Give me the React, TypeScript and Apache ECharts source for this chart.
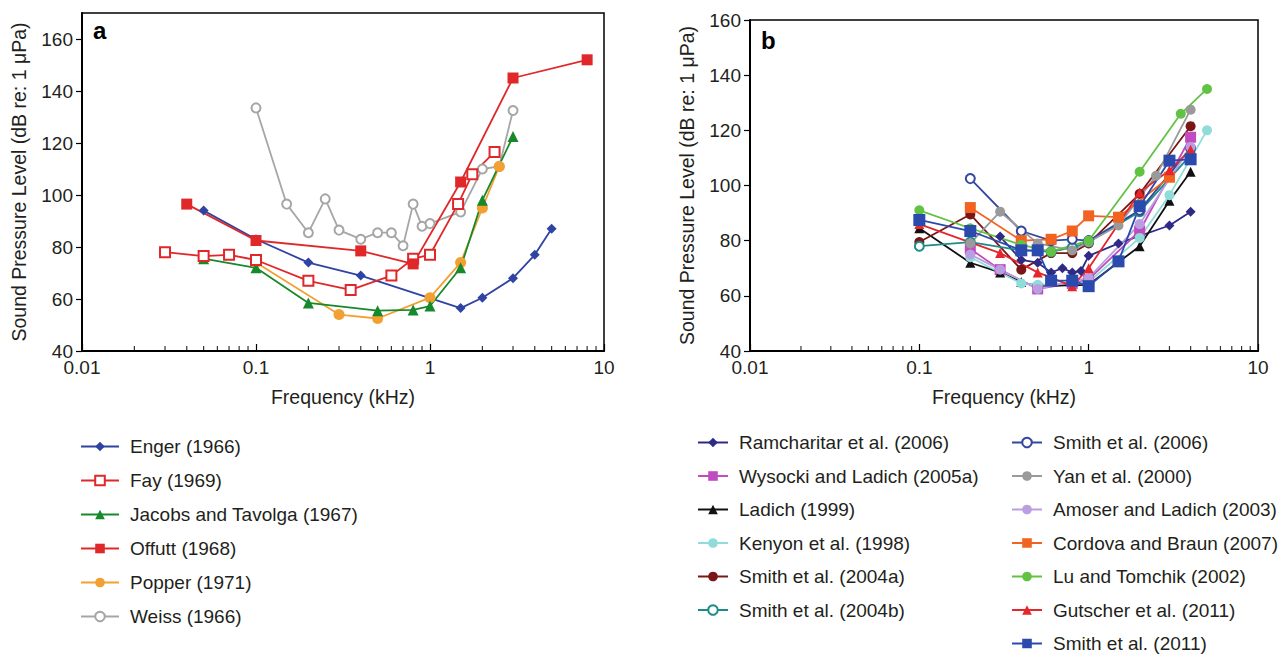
import React, { useEffect, useRef } from "react";
import * as echarts from "echarts";

// ---------- Panel a data (frequency kHz, dB) ----------
const engerData = [[0.05, 94], [0.1, 83], [0.2, 74], [0.4, 69], [1.5, 56.5], [2, 60.5], [3, 68], [4, 77], [5, 87]];
const fayData = [[0.03, 78], [0.05, 76.5], [0.07, 77], [0.1, 75], [0.2, 67], [0.35, 63.5], [0.6, 69], [0.8, 75.5], [1, 77], [1.45, 96.5], [1.75, 108], [2.35, 116.5]];
const jacobsData = [[0.05, 75.5], [0.1, 72], [0.2, 58.5], [0.5, 55.5], [0.8, 55.8], [1, 57.3], [1.5, 72], [2, 98], [3, 122.5]];
const offuttData = [[0.04, 96.5], [0.1, 82.5], [0.4, 78.5], [0.8, 73.5], [1.5, 105], [3, 145], [8, 152]];
const popperData = [[0.1, 74], [0.3, 54], [0.5, 52.5], [1, 60.5], [1.5, 74], [2, 95], [2.5, 111]];
const weissData = [[0.1, 133.5], [0.15, 96.5], [0.2, 85.5], [0.25, 98.5], [0.3, 86.5], [0.4, 83], [0.5, 85.5], [0.6, 85.5], [0.7, 80.5], [0.8, 96.5], [0.9, 88], [1, 89], [1.5, 93.5], [2, 110], [2.5, 111], [3, 132.5]];

// ---------- Panel b data ----------
const ramcharitarData = [[0.3, 81.5], [0.4, 73], [0.5, 72], [0.6, 68.5], [0.7, 70], [0.8, 68.5], [0.9, 69], [1, 74.5], [1.5, 79], [3, 85.5], [4, 90.5]];
const wysockiData = [[0.2, 77], [0.3, 69.5], [0.5, 62.5], [0.8, 64.5], [1, 66], [2, 83.5], [4, 117.5]];
const ladichData = [[0.1, 84.5], [0.2, 72], [0.3, 68.5], [0.4, 65], [0.5, 63.5], [1, 64], [2, 78], [3, 94.5], [4, 105]];
const kenyonData = [[0.2, 74], [0.4, 64.5], [0.5, 64], [1, 65], [2, 81], [3, 96.5], [5, 120]];
const smith2004aData = [[0.1, 79.5], [0.2, 89.5], [0.4, 69.5], [0.6, 75.5], [0.8, 75.5], [1, 79], [2, 97], [4, 121.5]];
const smith2004bData = [[0.1, 78], [0.2, 79.5], [0.4, 76.5], [0.6, 76], [0.8, 77.5], [1, 79.5], [2, 90.5], [4, 111]];
const smith2006Data = [[0.2, 102.5], [0.4, 83.5], [0.6, 80], [0.8, 80.5], [1, 80], [2, 91], [4, 113.5]];
const yanData = [[0.2, 79], [0.3, 90.5], [0.5, 79], [0.8, 76.5], [1, 79.5], [1.5, 85.5], [2.5, 103.5], [4, 127.5]];
const amoserData = [[0.2, 75], [0.3, 69.5], [0.5, 62.5], [1, 66.5], [2, 86], [4, 114]];
const cordovaData = [[0.2, 92], [0.4, 80], [0.6, 80.5], [0.8, 83.5], [1, 89], [1.5, 88.5], [3, 103]];
const luData = [[0.1, 91], [0.2, 84.5], [0.4, 78.5], [0.6, 76], [1, 80], [2, 105], [3.5, 126], [5, 135]];
const gutscherData = [[0.1, 86], [0.3, 75.5], [0.5, 68.5], [0.8, 63.5], [1, 70], [2, 97.5], [3, 105.5], [4, 113]];
const smith2011Data = [[0.1, 87.5], [0.2, 83.5], [0.4, 76.5], [0.5, 76.5], [0.6, 65.5], [0.8, 65.5], [1, 63.5], [1.5, 72.5], [2, 92.5], [3, 109], [4, 109.5]];

// minor tick frequencies for the log axes
const minorTickFreqs = [0.02, 0.03, 0.04, 0.05, 0.06, 0.07, 0.08, 0.09, 0.2, 0.3, 0.4, 0.5, 0.6, 0.7, 0.8, 0.9, 2, 3, 4, 5, 6, 7, 8, 9];

const legendA = ["Enger (1966)", "Fay (1969)", "Jacobs and Tavolga (1967)", "Offutt (1968)", "Popper (1971)", "Weiss (1966)"];
const legendB1 = ["Ramcharitar et al. (2006)", "Wysocki and Ladich (2005a)", "Ladich (1999)", "Kenyon et al. (1998)", "Smith et al. (2004a)", "Smith et al. (2004b)"];
const legendB2 = ["Smith et al. (2006)", "Yan et al. (2000)", "Amoser and Ladich (2003)", "Cordova and Braun (2007)", "Lu and Tomchik (2002)", "Gutscher et al. (2011)", "Smith et al. (2011)"];

const FONT = "'Liberation Sans', Arial, Helvetica, sans-serif";
const TXT = "#231f20";

function mk(name: string, data: number[][], idx: number, color: string, symbol: string, size: number, z = 2) {
  const empty = symbol.startsWith("empty");
  return {
    name,
    type: "line",
    xAxisIndex: idx,
    yAxisIndex: idx,
    data,
    symbol,
    symbolSize: size,
    showAllSymbol: true,
    z,
    lineStyle: { color, width: 1.8 },
    itemStyle: { color, borderColor: color, borderWidth: empty ? 2 : 0 },
    emphasis: { disabled: true },
  };
}

function minorTicks(idx: number) {
  return {
    type: "scatter",
    xAxisIndex: idx,
    yAxisIndex: idx,
    data: minorTickFreqs.map((f) => [f, 40]),
    symbol: "rect",
    symbolSize: [1.2, 5],
    symbolOffset: [0, -2.5],
    itemStyle: { color: "#000" },
    silent: true,
    clip: false,
    z: 5,
  };
}

function xAxis(idx: number) {
  return {
    type: "log",
    gridIndex: idx,
    min: 0.01,
    max: 10,
    logBase: 10,
    name: "Frequency (kHz)",
    nameLocation: "middle",
    nameGap: 36,
    nameTextStyle: { fontSize: 19.5, color: TXT, fontFamily: FONT },
    axisLine: { lineStyle: { color: "#000", width: 2 } },
    axisTick: { inside: true, length: 7, lineStyle: { color: "#000", width: 1.2 } },
    axisLabel: { fontSize: 19, color: TXT, fontFamily: FONT, margin: 7 },
    splitLine: { show: false },
  };
}

function yAxis(idx: number, max: number) {
  return {
    type: "value",
    gridIndex: idx,
    min: 40,
    max,
    interval: 20,
    name: "Sound Pressure Level (dB re: 1 μPa)",
    nameLocation: "middle",
    nameGap: 53,
    nameTextStyle: { fontSize: 19.5, color: TXT, fontFamily: FONT },
    axisLine: { show: true, lineStyle: { color: "#000", width: 2 } },
    axisTick: { show: true, inside: false, length: 6, lineStyle: { color: "#000", width: 1.2 } },
    axisLabel: { fontSize: 19, color: TXT, fontFamily: FONT, margin: 9, showMaxLabel: max === 160 },
    splitLine: { show: false },
  };
}

function legend(left: number, top: number, data: string[], itemWidth: number, gap: number) {
  return {
    orient: "vertical",
    left,
    top,
    height: 260,
    padding: 0,
    data,
    itemWidth,
    itemHeight: 12,
    itemGap: gap,
    selectedMode: false,
    textStyle: { fontSize: 19, color: TXT, fontFamily: FONT, padding: [0, 0, 0, 6] },
  };
}

export default function App() {
  const ref = useRef<HTMLDivElement>(null);
  useEffect(() => {
    if (!ref.current) return;
    const chart = echarts.init(ref.current, null, { renderer: "svg" });
    chart.setOption({
      animation: false,
      backgroundColor: "#fff",
      textStyle: { fontFamily: FONT },
      grid: [
        { left: 82, top: 13, right: 684, bottom: 306, show: true, borderColor: "#000", borderWidth: 1.5, backgroundColor: "transparent" },
        { left: 750, top: 20, right: 30, bottom: 306, show: true, borderColor: "#000", borderWidth: 1.5, backgroundColor: "transparent" },
      ],
      xAxis: [xAxis(0), xAxis(1)],
      yAxis: [yAxis(0, 170), yAxis(1, 160)],
      legend: [
        legend(80, 437, legendA, 38, 15),
        legend(697, 433, legendB1, 30, 14.5),
        legend(1011, 433, legendB2, 30, 14.5),
      ],
      graphic: [
        { type: "text", left: 93, top: 18, style: { text: "a", fontSize: 24, fontWeight: "bold", fill: "#000", fontFamily: FONT } },
        { type: "text", left: 761, top: 28, style: { text: "b", fontSize: 24, fontWeight: "bold", fill: "#000", fontFamily: FONT } },
      ],
      series: [
        mk("Weiss (1966)", weissData, 0, "#a6a6a6", "emptyCircle", 9),
        mk("Enger (1966)", engerData, 0, "#2f43a3", "diamond", 10),
        mk("Popper (1971)", popperData, 0, "#f3a033", "circle", 11),
        mk("Jacobs and Tavolga (1967)", jacobsData, 0, "#17892b", "triangle", 11),
        mk("Fay (1969)", fayData, 0, "#e0282a", "emptyRect", 10),
        mk("Offutt (1968)", offuttData, 0, "#e0282a", "rect", 11),
        minorTicks(0),

        mk("Ramcharitar et al. (2006)", ramcharitarData, 1, "#2e2a85", "diamond", 10),
        mk("Wysocki and Ladich (2005a)", wysockiData, 1, "#c04cc0", "rect", 11),
        mk("Ladich (1999)", ladichData, 1, "#111111", "triangle", 10),
        mk("Kenyon et al. (1998)", kenyonData, 1, "#8fdcd8", "circle", 10),
        mk("Smith et al. (2004a)", smith2004aData, 1, "#7a1616", "circle", 10),
        mk("Smith et al. (2004b)", smith2004bData, 1, "#1b8c88", "emptyCircle", 9),
        mk("Smith et al. (2006)", smith2006Data, 1, "#34479e", "emptyCircle", 9),
        mk("Yan et al. (2000)", yanData, 1, "#9a9a9a", "circle", 10),
        mk("Amoser and Ladich (2003)", amoserData, 1, "#b99ee2", "circle", 10),
        mk("Cordova and Braun (2007)", cordovaData, 1, "#f26322", "rect", 11),
        mk("Lu and Tomchik (2002)", luData, 1, "#62c244", "circle", 10),
        mk("Gutscher et al. (2011)", gutscherData, 1, "#e5262b", "triangle", 10),
        mk("Smith et al. (2011)", smith2011Data, 1, "#2b4aae", "rect", 12),
        minorTicks(1),
      ],
    });
    return () => chart.dispose();
  }, []);
  return <div ref={ref} style={{ position: "fixed", left: 0, top: 0, width: 1288, height: 657 }} />;
}
